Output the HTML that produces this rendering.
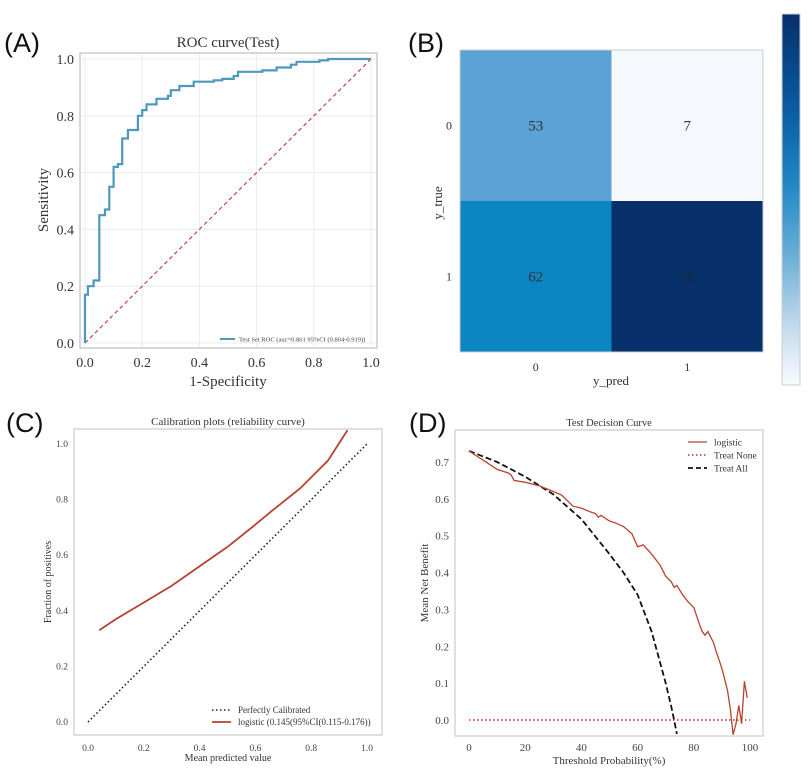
<!DOCTYPE html>
<html><head><meta charset="utf-8">
<style>
html,body{margin:0;padding:0;background:#fff;}
svg{display:block;font-family:"Liberation Serif",serif;}
.pl{font-family:"Liberation Sans",sans-serif;font-size:27px;fill:#111;}
</style></head>
<body>
<svg id="fig" width="809" height="773" viewBox="0 0 809 773" xmlns="http://www.w3.org/2000/svg">
<defs>
<linearGradient id="cbg" x1="0" y1="0" x2="0" y2="1">
<stop offset="0" stop-color="#08306b"/><stop offset="0.25" stop-color="#0b5aa2"/><stop offset="0.45" stop-color="#1f86c4"/><stop offset="0.65" stop-color="#6aaed6"/><stop offset="0.85" stop-color="#c6dbef"/><stop offset="1" stop-color="#f7fbff"/>
</linearGradient>
<clipPath id="clipC"><rect x="74" y="429" width="308" height="306"/></clipPath>
<clipPath id="clipD"><rect x="455" y="430" width="308" height="306"/></clipPath>
</defs>
<text class="pl" x="4" y="52">(A)</text>
<text class="pl" x="408" y="52">(B)</text>
<text class="pl" x="6" y="432">(C)</text>
<text class="pl" x="409" y="432">(D)</text>
<g id="gA"></g><g id="gB"></g><g id="gC"></g><g id="gD"></g>
</svg>
<script>
// ---- Panel A data (ROC)
const rocFpr=[0,0,0.01,0.01,0.03,0.03,0.05,0.05,0.07,0.07,0.085,0.085,0.1,0.1,0.115,0.115,0.13,0.13,0.15,0.15,0.185,0.185,0.2,0.2,0.215,0.215,0.25,0.25,0.29,0.29,0.3,0.3,0.33,0.33,0.38,0.38,0.45,0.45,0.48,0.48,0.52,0.52,0.535,0.535,0.62,0.62,0.67,0.67,0.72,0.72,0.74,0.74,0.82,0.82,0.85,0.85,1.0];
const rocTpr=[0,0.17,0.17,0.2,0.2,0.22,0.22,0.45,0.45,0.47,0.47,0.55,0.55,0.62,0.62,0.63,0.63,0.72,0.72,0.75,0.75,0.80,0.80,0.82,0.82,0.84,0.84,0.86,0.86,0.87,0.87,0.89,0.89,0.905,0.905,0.92,0.92,0.925,0.925,0.93,0.93,0.94,0.94,0.955,0.955,0.96,0.96,0.97,0.97,0.98,0.98,0.99,0.99,0.995,0.995,1.0,1.0];
const rocTicks=[0,0.2,0.4,0.6,0.8,1.0];
// ---- Panel B data (confusion matrix)
const cmLabels=["0","1"];
const cmValues=[[53,7],[62,48]];
// ---- Panel C data (calibration)
const calX=[0.04,0.1,0.2,0.3,0.4,0.5,0.6,0.66,0.76,0.86,0.93];
const calY=[0.33,0.37,0.43,0.49,0.56,0.63,0.71,0.76,0.84,0.94,1.05];
const calTicks=[0,0.2,0.4,0.6,0.8,1.0];
// ---- Panel D data (decision curve)
const dcT=[0,3,5,8,10,14,15,16,20,25,30,33,35,37,40,43,45,46,47,50,52,55,58,60,62,65,68,70,72,73,74,76,78,80,82,83,84,85,87,88,90,92,93,94,95,96,97,98,99];
const dcModel=[0.73,0.715,0.705,0.69,0.68,0.67,0.665,0.65,0.645,0.635,0.62,0.61,0.595,0.58,0.575,0.565,0.56,0.55,0.555,0.54,0.535,0.525,0.505,0.47,0.475,0.45,0.42,0.39,0.375,0.36,0.365,0.34,0.32,0.305,0.26,0.24,0.23,0.24,0.21,0.185,0.14,0.08,0.03,-0.04,-0.01,0.04,-0.01,0.105,0.06];
const dcAllT=[0,10,20,30,40,50,55,60,65,70,72,73,74];
const dcAll=[0.73,0.70,0.66,0.612,0.545,0.45,0.40,0.34,0.24,0.10,0.036,0.0,-0.038];
const dcXTicks=[0,20,40,60,80,100];
const dcYTicks=[0,0.1,0.2,0.3,0.4,0.5,0.6,0.7];

const NS="http://www.w3.org/2000/svg";
function mk(parent,tag,attrs,text){const e=document.createElementNS(NS,tag);for(const k in attrs)e.setAttribute(k,attrs[k]);if(text!==undefined)e.textContent=text;parent.appendChild(e);return e;}
function pathD(xs,ys,sx,sy){return xs.map((x,i)=>(i?"L":"M")+sx(x).toFixed(1)+","+sy(ys[i]).toFixed(1)).join("");}

// ===== Panel A
(function(){
const g=document.getElementById("gA");
const sx=v=>85+v*286, sy=v=>343-v*284;
let e=mk(g,"rect",{x:80,y:53,width:297,height:295,fill:"#fff",stroke:"#ccc","stroke-width":1.5});

rocTicks.forEach(t=>{
 e=mk(g,"line",{x1:sx(t),x2:sx(t),y1:54,y2:347,stroke:"#ececec","stroke-width":1});
 
 e=mk(g,"line",{x1:81,x2:376,y1:sy(t),y2:sy(t),stroke:"#ececec","stroke-width":1});
 
 e=mk(g,"text",{x:sx(t),y:367,"text-anchor":"middle","font-size":14,fill:"#333"},t.toFixed(1));
 
 e=mk(g,"text",{x:74,y:sy(t)+5,"text-anchor":"end","font-size":14,fill:"#333"},t.toFixed(1));
 
});
e=mk(g,"line",{x1:sx(0),y1:sy(0),x2:sx(1),y2:sy(1),stroke:"#c8424f","stroke-width":1.2,"stroke-dasharray":"4,3"});

e=mk(g,"path",{d:pathD(rocFpr,rocTpr,sx,sy),fill:"none",stroke:"#4f98bd","stroke-width":2.2});

e=mk(g,"text",{x:228,y:47,"text-anchor":"middle","font-size":15,fill:"#333"},"ROC curve(Test)");

e=mk(g,"text",{x:228,y:386,"text-anchor":"middle","font-size":15,fill:"#333"},"1-Specificity");

e=mk(g,"text",{x:48,y:200,"text-anchor":"middle","font-size":15,fill:"#333",transform:"rotate(-90 48 200)"},"Sensitivity");

e=mk(g,"line",{x1:220,y1:339,x2:235,y2:339,stroke:"#4f98bd","stroke-width":2});

e=mk(g,"text",{x:239,y:341.5,"font-size":6.5,fill:"#444"},"Test Set ROC (auc=0.861 95%CI (0.804-0.919))");

})();

// ===== Panel B
(function(){
const g=document.getElementById("gB");
const x0=460,y0=50,cw=151.5,ch=151;
const cols=[["#5ba3d5","#f5f9fe"],["#0c86c3","#08306b"]];
cmValues.forEach((row,i)=>row.forEach((v,j)=>{
 let e=mk(g,"rect",{x:x0+j*cw,y:y0+i*ch,width:cw,height:ch,fill:cols[i][j]});
 
 e=mk(g,"text",{x:x0+j*cw+cw/2,y:y0+i*ch+ch/2+5,"text-anchor":"middle","font-size":15,fill:(i==1&&j==1)?"#1a2a44":"#333"},v);
 
}));
let e=mk(g,"rect",{x:x0,y:y0,width:2*cw,height:2*ch,fill:"none",stroke:"#ccc","stroke-width":1});

cmLabels.forEach((l,k)=>{
 e=mk(g,"text",{x:x0+k*cw+cw/2,y:371,"text-anchor":"middle","font-size":12,fill:"#333"},l);
 
 e=mk(g,"text",{x:452,y:y0+k*ch+ch/2+4,"text-anchor":"end","font-size":12,fill:"#333"},l);
 
});
e=mk(g,"text",{x:611,y:385,"text-anchor":"middle","font-size":13,fill:"#333"},"y_pred");

e=mk(g,"text",{x:442,y:203,"text-anchor":"middle","font-size":13,fill:"#333",transform:"rotate(-90 442 203)"},"y_true");

e=mk(g,"rect",{x:782,y:14,width:18,height:371,fill:"url(#cbg)",stroke:"#ccc","stroke-width":1});

})();

// ===== Panel C
(function(){
const g=document.getElementById("gC");
const sx=v=>88+v*279, sy=v=>722-v*278;
let e=mk(g,"rect",{x:74,y:429,width:308,height:306,fill:"#fff",stroke:"#ccc","stroke-width":1.2});

calTicks.forEach(t=>{
 e=mk(g,"text",{x:sx(t),y:751,"text-anchor":"middle","font-size":9.5,fill:"#444"},t.toFixed(1));
 
 e=mk(g,"text",{x:68,y:sy(t)+3,"text-anchor":"end","font-size":9.5,fill:"#444"},t.toFixed(1));
 
});
e=mk(g,"line",{x1:sx(0),y1:sy(0),x2:sx(1),y2:sy(1),stroke:"#222","stroke-width":1.6,"stroke-dasharray":"1.5,2.5"});

e=mk(g,"path",{d:pathD(calX,calY,sx,sy),fill:"none",stroke:"#b5432e","stroke-width":1.8,"clip-path":"url(#clipC)"});

e=mk(g,"text",{x:228,y:425,"text-anchor":"middle","font-size":11,fill:"#333"},"Calibration plots  (reliability curve)");

e=mk(g,"text",{x:228,y:761,"text-anchor":"middle","font-size":10,fill:"#333"},"Mean predicted value");

e=mk(g,"text",{x:51,y:582,"text-anchor":"middle","font-size":10,fill:"#333",transform:"rotate(-90 51 582)"},"Fraction of positives");

e=mk(g,"line",{x1:212,y1:710,x2:231,y2:710,stroke:"#222","stroke-width":1.6,"stroke-dasharray":"1.5,2.5"});

e=mk(g,"text",{x:238,y:713,"font-size":9,fill:"#333"},"Perfectly Calibrated");

e=mk(g,"line",{x1:212,y1:722,x2:231,y2:722,stroke:"#b5432e","stroke-width":1.8});

e=mk(g,"text",{x:238,y:725,"font-size":9,fill:"#333"},"logistic (0.145(95%CI(0.115-0.176))");

})();

// ===== Panel D
(function(){
const g=document.getElementById("gD");
const sx=v=>469+v*2.81, sy=v=>720-v*368.6;
let e=mk(g,"rect",{x:455,y:430,width:308,height:306,fill:"#fff",stroke:"#ccc","stroke-width":1.2});

dcXTicks.forEach(t=>{
 e=mk(g,"text",{x:sx(t),y:751,"text-anchor":"middle","font-size":11,fill:"#444"},t);
 
});
dcYTicks.forEach(t=>{
 e=mk(g,"text",{x:449,y:sy(t)+4,"text-anchor":"end","font-size":11,fill:"#444"},t.toFixed(1));
 
});
e=mk(g,"line",{x1:sx(0),y1:sy(0),x2:sx(100),y2:sy(0),stroke:"#d02a2a","stroke-width":1.6,"stroke-dasharray":"1.5,2.5"});

e=mk(g,"path",{d:pathD(dcAllT,dcAll,sx,sy),fill:"none",stroke:"#111","stroke-width":1.8,"stroke-dasharray":"6,3","clip-path":"url(#clipD)"});

e=mk(g,"path",{d:pathD(dcT,dcModel,sx,sy),fill:"none",stroke:"#b5432e","stroke-width":1.3,"clip-path":"url(#clipD)"});

e=mk(g,"text",{x:609,y:426,"text-anchor":"middle","font-size":10.5,fill:"#333"},"Test Decision Curve");

e=mk(g,"text",{x:609,y:764,"text-anchor":"middle","font-size":11,fill:"#333"},"Threshold Probability(%)");

e=mk(g,"text",{x:428,y:583,"text-anchor":"middle","font-size":11,fill:"#333",transform:"rotate(-90 428 583)"},"Mean Net Benefit");

const leg=[["logistic","#b5432e","none",1.3],["Treat None","#d02a2a","1.5,2.5",1.6],["Treat All","#111","5,3",1.8]];
leg.forEach((l,k)=>{
 const y=442+k*13;
 e=mk(g,"line",{x1:688,y1:y,x2:707,y2:y,stroke:l[1],"stroke-width":l[3],"stroke-dasharray":l[2]});
 
 e=mk(g,"text",{x:714,y:y+3.5,"font-size":9.5,fill:"#333"},l[0]);
 
});
})();
</script>
</body></html>
